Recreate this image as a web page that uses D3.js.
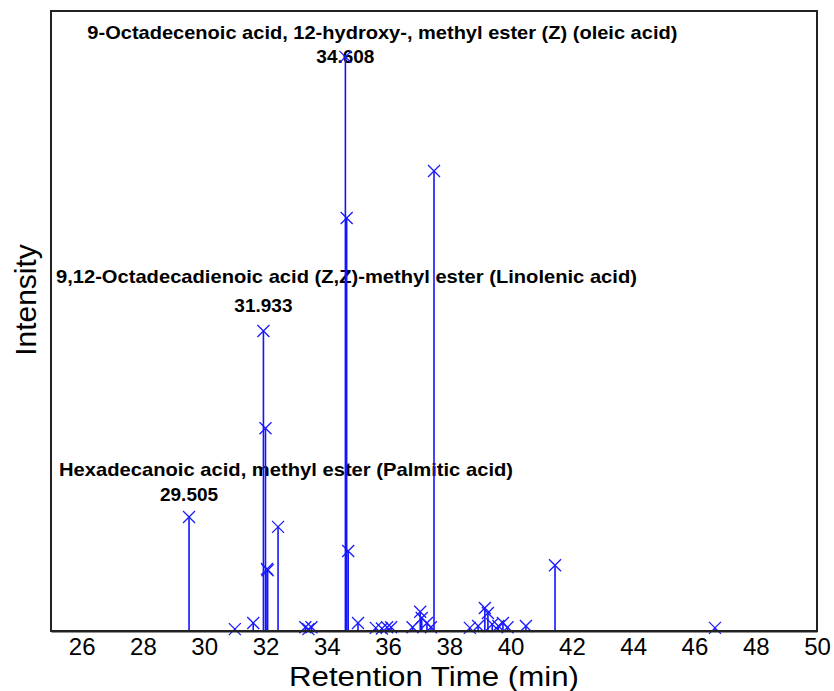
<!DOCTYPE html>
<html>
<head>
<meta charset="utf-8">
<script src="https://cdn.jsdelivr.net/npm/d3@7"></script>
<style>
  body { margin: 0; background: #fff; }
  text { font-family: "Liberation Sans", Arial, sans-serif; }
</style>
</head>
<body>
<div id="chart"></div>
<script>
// peak list (retention time in min, relative intensity)
var retentionTimes = [29.505, 31.0, 31.6, 31.933, 32.0, 32.05, 32.07, 32.41,
  33.3, 33.4, 33.5, 34.608, 34.65, 34.7, 35.02, 35.6, 35.8, 35.97, 36.1,
  36.8, 37.05, 37.1, 37.27, 37.4, 37.5, 38.67, 38.94, 39.16, 39.26, 39.4,
  39.6, 39.75, 39.9, 40.5, 41.45, 46.67];
var intensities = [18.4, 0.3, 1.3, 48.4, 32.7, 10.0, 9.8, 16.8,
  0.6, 0.3, 0.6, 92.6, 66.6, 12.9, 1.3, 0.5, 0.4, 0.6, 0.6,
  0.6, 3.1, 2.1, 1.3, 0.6, 74.2, 0.5, 0.8, 3.7, 2.9, 1.1,
  0.8, 1.3, 0.6, 0.8, 10.6, 0.5];

var xTicks = [26, 28, 30, 32, 34, 36, 38, 40, 42, 44, 46, 48, 50];

var labelNames = ["Hexadecanoic acid, methyl ester (Palmitic acid)",
  "9,12-Octadecadienoic acid (Z,Z)-methyl ester (Linolenic acid)",
  "9-Octadecenoic acid, 12-hydroxy-, methyl ester (Z) (oleic acid)"];
var labelTimes = [29.505, 31.933, 34.608];

var width = 834, height = 691;
var margin = {top: 11, right: 17, bottom: 60, left: 51};

var svg = d3.select("#chart").append("svg")
    .attr("width", width)
    .attr("height", height);

var x = d3.scaleLinear().domain([25, 50]).range([margin.left, width - margin.right]);
var y = d3.scaleLinear().domain([0, 100]).range([height - margin.bottom, margin.top]);

// compound labels sit under the peaks
var labelPos = [{dx: 97, nameY: 476, numY: 501, len: 454},
                {dx: 83, nameY: 283, numY: 312, len: 581},
                {dx: 37, nameY: 39, numY: 63, len: 590}];

labelNames.forEach(function(name, i) {
  var px = x(labelTimes[i]);
  svg.append("text")
      .attr("x", px + labelPos[i].dx)
      .attr("y", labelPos[i].nameY)
      .attr("text-anchor", "middle")
      .attr("textLength", labelPos[i].len)
      .attr("lengthAdjust", "spacingAndGlyphs")
      .style("font-size", "19px")
      .style("font-weight", "bold")
      .text(name);
  svg.append("text")
      .attr("x", px)
      .attr("y", labelPos[i].numY)
      .attr("text-anchor", "middle")
      .style("font-size", "19px")
      .style("font-weight", "bold")
      .text(labelTimes[i].toFixed(3));
});

var peaks = retentionTimes.map(function(t, i) { return {t: t, v: intensities[i]}; });

// stick lines
svg.selectAll(".stick")
    .data(peaks)
  .enter().append("line")
    .attr("class", "stick")
    .attr("x1", function(d) { return x(d.t); })
    .attr("x2", function(d) { return x(d.t); })
    .attr("y1", y(0))
    .attr("y2", function(d) { return y(d.v); })
    .attr("stroke", "#1414ff")
    .attr("stroke-width", 1.6);

// x markers on top of each peak
var m = 6;
svg.selectAll(".mark")
    .data(peaks)
  .enter().append("path")
    .attr("class", "mark")
    .attr("d", function(d) {
      var cx = x(d.t), cy = y(d.v);
      return "M" + (cx - m) + "," + (cy - m) + "L" + (cx + m) + "," + (cy + m) +
             "M" + (cx - m) + "," + (cy + m) + "L" + (cx + m) + "," + (cy - m);
    })
    .attr("stroke", "#1a1aff")
    .attr("stroke-width", 1.3)
    .attr("fill", "none");

// frame
svg.append("rect")
    .attr("x", margin.left)
    .attr("y", margin.top)
    .attr("width", width - margin.left - margin.right)
    .attr("height", height - margin.top - margin.bottom)
    .attr("fill", "none")
    .attr("stroke", "#222")
    .attr("stroke-width", 2);

// x axis
var xAxis = svg.append("g")
    .attr("transform", "translate(0," + y(0) + ")")
    .call(d3.axisBottom(x).tickValues(xTicks).tickFormat(d3.format("d")).tickSize(0).tickPadding(7));
xAxis.select(".domain").attr("stroke", "#222").attr("stroke-width", 2);
xAxis.selectAll("text")
    .style("font-size", "24px")
    .style("font-family", "'Liberation Sans', Arial, sans-serif")
    .attr("fill", "#000");

svg.append("text")
    .attr("x", (margin.left + width - margin.right) / 2)
    .attr("y", 686)
    .attr("text-anchor", "middle")
    .attr("textLength", 290)
    .attr("lengthAdjust", "spacingAndGlyphs")
    .style("font-size", "27px")
    .text("Retention Time (min)");

svg.append("text")
    .attr("transform", "translate(36,300) rotate(-90)")
    .attr("text-anchor", "middle")
    .style("font-size", "30px")
    .text("Intensity");
</script>
</body>
</html>
